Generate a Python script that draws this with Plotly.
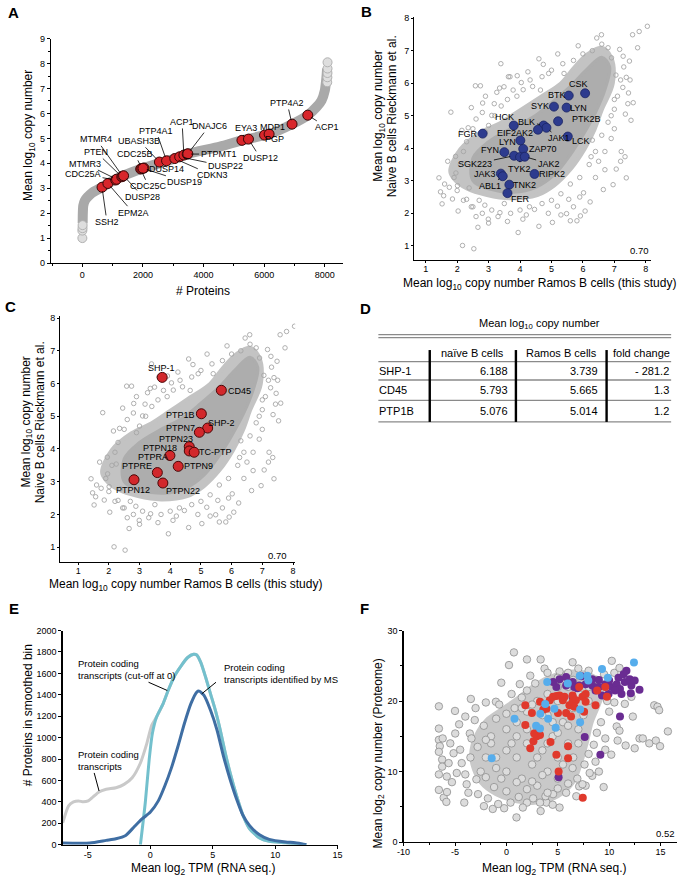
import plotly.graph_objects as go

W, H = 684, 882
FONT = "Arial, Liberation Sans, Helvetica, sans-serif"


def PX(x):
    return x / W


def PY(y):
    return 1 - y / H


# ================= Panel A data =================
a_curve_x = [10, 15, 30, 80, 160, 324, 649, 1081, 1946, 2919, 3459, 4541, 5297, 6162, 6919, 7438, 7730, 7892, 8000, 8054, 8075]
a_curve_y = [1.60, 2.00, 2.30, 2.50, 2.63, 2.82, 3.04, 3.35, 3.78, 4.14, 4.37, 4.67, 4.93, 5.17, 5.57, 5.93, 6.26, 6.52, 6.92, 7.45, 7.80]
a_tail_x = [0, 0, 5, 8, 8080, 8085, 8088, 8090, 8090]
a_tail_y = [1.00, 1.30, 1.40, 1.52, 7.25, 7.45, 7.62, 7.80, 8.05]

a_names = ["SSH2", "EPM2A", "CDC25A", "MTMR3", "PTEN", "MTMR4", "DUSP28", "CDC25C", "CDC25B", "DUSP14",
           "DUSP19", "UBASH3B", "PTP4A1", "CDKN3", "DUSP22", "ACP1", "PTPMT1", "DNAJC6", "EYA3", "DUSP12",
           "PGP", "MDP1", "PTP4A2", "ACP1"]
a_x = [649, 843, 1100, 1130, 1300, 1330, 1360, 1924, 1960, 2032, 2000, 2541, 2778, 3049, 3211, 3350, 3459, 3480,
       5265, 5481, 6011, 6162, 6919, 7438]
a_y = [3.04, 3.19, 3.33, 3.36, 3.46, 3.48, 3.50, 3.77, 3.79, 3.81, 3.80, 4.05, 4.10, 4.19, 4.26, 4.33, 4.37, 4.38,
       4.92, 4.97, 5.13, 5.17, 5.57, 5.93]
# label text positions (layout, data coords of the text centre)
a_lab_x = [811, 1676, 22, 76, 454, 465, 2000, 2184, 1730, 2789, 3384, 1880, 2430, 4292, 4724, 3290, 4497, 4180,
           5400, 5870, 6346, 6270, 6757, 8076]
a_lab_y = [1.65, 2.02, 3.56, 3.99, 4.45, 4.96, 2.65, 3.08, 4.38, 3.78, 3.25, 4.90, 5.31, 3.52, 3.88, 5.66, 4.37, 5.49,
           5.40, 4.22, 4.96, 5.46, 6.42, 5.44]

# ================= Panel B / C background cloud =================
bc_core_outer = [(1.78, 3.3), (2.1, 3.97), (2.74, 4.48), (3.38, 4.78), (4.02, 5.18), (4.66, 5.58), (5.30, 5.99),
                 (5.73, 6.49), (6.15, 6.89), (6.58, 7.09), (6.9, 6.79), (6.95, 5.99), (6.6, 5.18), (6.37, 4.58),
                 (6.05, 3.97), (5.62, 3.37), (5.09, 2.86), (4.55, 2.56), (3.70, 2.46), (2.95, 2.56), (2.31, 2.76),
                 (1.89, 3.07)]
bc_core_inner = [(2.5, 3.0), (3.0, 2.75), (3.8, 2.65), (4.5, 2.8), (5.1, 3.2), (5.6, 3.8), (6.0, 4.4), (6.4, 5.1),
                 (6.7, 5.8), (6.85, 6.5), (6.6, 6.8), (6.1, 6.4), (5.6, 5.9), (5.0, 5.4), (4.4, 4.95), (3.7, 4.6),
                 (3.0, 4.2), (2.5, 3.7)]
bc_points = [(1.42, 3.09), (1.47, 2.66), (1.57, 2.54), (1.52, 2.29), (1.75, 2.80), (1.80, 5.11), (1.85, 2.44),
             (1.96, 3.24), (2.01, 2.85), (2.03, 2.07), (2.17, 1.01), (2.24, 3.54), (2.30, 2.43), (2.35, 4.63),
             (2.38, 2.78), (2.45, 2.20), (2.53, 0.91), (2.58, 5.92), (2.66, 1.57), (2.74, 5.92), (2.81, 5.39),
             (2.88, 2.25), (2.90, 4.50), (2.99, 1.82), (3.10, 5.01), (3.18, 5.37), (3.26, 5.72), (3.39, 6.60),
             (3.36, 2.02), (3.49, 5.89), (3.63, 6.20), (3.68, 6.20), (3.78, 5.79), (3.91, 6.23), (3.94, 1.41),
             (4.04, 6.02), (4.09, 1.82), (4.32, 6.10), (4.46, 2.12), (4.65, 5.79), (4.74, 6.58), (4.91, 6.30),
             (5.03, 1.72), (5.19, 2.22), (5.36, 6.60), (5.48, 1.99), (5.55, 2.43), (5.60, 1.77), (5.81, 1.77),
             (5.92, 1.92), (6.02, 2.63), (6.07, 2.07), (6.23, 2.35), (6.26, 3.74), (6.30, 4.25), (6.44, 7.39),
             (6.59, 7.49), (6.65, 2.73), (6.70, 3.34), (6.80, 7.09), (6.91, 6.78), (6.96, 2.88), (7.06, 3.36),
             (7.17, 7.04), (7.22, 3.90), (7.28, 6.83), (7.34, 3.74), (7.38, 3.09), (7.43, 5.37), (7.58, 7.49),
             (7.74, 7.09), (7.79, 7.59), (8.05, 7.75), (7.48, 6.68), (7.38, 6.18), (7.27, 5.87), (7.53, 4.86),
             (2.1, 3.5), (2.2, 3.9), (2.3, 4.2), (2.5, 4.6), (2.6, 4.9), (2.8, 5.1), (3.0, 4.7), (3.2, 5.0),
             (3.4, 5.3), (3.6, 5.5), (3.9, 5.6), (4.1, 5.8), (4.4, 5.9), (4.7, 6.2), (5.0, 6.4), (5.4, 6.3),
             (5.7, 6.7), (6.0, 6.9), (6.3, 7.0), (6.6, 7.2), (1.9, 3.1), (2.0, 2.7), (2.2, 2.4), (2.5, 2.2),
             (2.8, 2.0), (3.1, 2.1), (3.3, 1.9), (3.7, 2.0), (4.0, 2.1), (4.3, 2.2), (4.7, 2.3), (5.0, 2.4),
             (5.3, 2.6), (5.6, 2.9), (5.9, 3.1), (6.2, 3.5), (6.4, 3.9), (6.6, 4.4), (6.8, 4.8), (7.0, 5.2),
             (7.1, 5.6), (7.2, 6.1), (7.3, 6.5), (1.7, 3.6), (1.6, 2.9), (2.7, 2.4), (3.5, 2.3), (4.9, 2.0),
             (5.9, 2.5), (6.5, 3.6), (6.9, 4.3), (7.5, 6.1), (7.6, 5.4), (7.2, 3.6), (7.0, 5.5), (6.9, 5.0),
             (1.95, 3.75), (2.15, 4.55), (2.45, 5.25), (2.9, 5.6), (3.35, 5.85), (4.25, 6.35), (4.6, 6.75),
             (5.2, 6.9), (5.85, 7.15), (2.6, 1.9), (3.0, 1.7), (3.6, 1.75), (4.2, 1.95), (4.6, 1.6), (5.3, 1.95),
             (5.7, 2.2), (6.4, 3.1), (6.7, 3.9), (7.0, 4.6), (7.35, 5.05), (7.45, 5.7), (7.05, 6.25)]

b_names = ["CSK", "BTK", "SYK", "LYN", "PTK2B", "BLK", "JAK1", "EIF2AK2", "HCK", "FGR", "LCK", "LYN", "ZAP70",
           "FYN", "SGK223", "TYK2", "JAK2", "JAK3", "ABL1", "RIPK2", "TNK2", "FER"]
b_x = [6.07, 5.55, 5.08, 5.48, 5.21, 4.75, 4.84, 4.57, 3.80, 2.81, 5.52, 4.01, 4.10, 3.50, 3.81, 4.00, 4.15, 3.39,
       3.45, 4.46, 3.66, 3.60]
b_y = [5.69, 5.62, 5.28, 5.25, 4.83, 4.70, 4.63, 4.57, 4.70, 4.45, 4.36, 4.24, 3.98, 3.88, 3.77, 3.73, 3.74, 3.22,
       3.14, 3.21, 2.88, 2.62]
b_lab_x = [5.85, 5.16, 4.65, 5.86, 6.12, 4.22, 5.24, 3.83, 3.50, 2.34, 5.95, 3.60, 4.72, 3.03, 2.58, 3.99, 4.91,
           2.90, 3.03, 5.03, 4.15, 4.02]
b_lab_y = [5.97, 5.65, 5.31, 5.25, 4.89, 4.82, 4.30, 4.46, 4.96, 4.45, 4.22, 4.20, 3.98, 3.95, 3.52, 3.37, 3.53,
           3.21, 2.83, 3.21, 2.88, 2.43]
b_lab_line = [False, False, False, False, False, True, True, False, False, False, False, False, False, False, True,
              True, True, False, True, False, False, False]

c_names = ["SHP-1", "CD45", "PTP1B", "SHP-2", "PTPN7", "PTPN23", "PTPN18", "TC-PTP", "PTPRA", "PTPN9", "PTPRE",
           "PTPN12", "PTPN22"]
c_x = [3.739, 5.665, 5.014, 5.22, 4.95, 4.62, 4.62, 4.78, 3.99, 4.26, 3.58, 2.82, 3.76]
c_y = [6.188, 5.793, 5.076, 4.64, 4.51, 4.07, 3.94, 3.90, 3.80, 3.47, 3.28, 3.06, 2.96]
c_lab_x = [3.70, 6.26, 4.34, 5.67, 4.32, 4.18, 3.68, 5.48, 3.43, 4.92, 2.92, 2.79, 4.43]
c_lab_y = [6.46, 5.76, 5.05, 4.80, 4.63, 4.30, 4.02, 3.90, 3.75, 3.47, 3.47, 2.76, 2.73]

# ================= Panel D table =================
tbl_rows = ["SHP-1", "CD45", "PTP1B"]
tbl_head = ["naïve B cells", "Ramos B cells", "fold change"]
tbl_naive = [6.188, 5.793, 5.076]
tbl_ramos = [3.739, 5.665, 5.014]
tbl_fold = ["- 281.2", "1.3", "1.2"]

# ================= Panel E curves =================
e_all_x = [-7.0, -6.53, -6.14, -5.74, -5.35, -4.96, -4.57, -4.10, -3.52, -2.74, -2.09, -1.44, -0.78, -0.26, 0.13,
           0.52, 1.04, 1.44, 1.96, 2.48, 3.0, 3.47, 3.73, 4.05, 4.44, 4.83, 5.22, 5.61, 6.01, 6.40, 6.92, 7.44,
           7.96, 8.75, 9.53, 10.84, 11.6, 12.5]
e_all_y = [203, 363, 400, 409, 400, 409, 446, 492, 517, 532, 563, 625, 763, 948, 1117, 1194, 1317, 1440, 1578,
           1671, 1748, 1778, 1772, 1702, 1563, 1409, 1255, 1071, 855, 671, 455, 271, 148, 62, 31, 18, 9, 0]
e_cut_x = [-0.78, -0.39, -0.08, 0.18, 0.52, 1.04, 1.44, 1.96, 2.48, 3.0, 3.47, 3.73, 4.05, 4.44, 4.83, 5.22, 5.61,
           6.01, 6.40, 6.92, 7.44, 7.96, 8.75, 9.53, 10.84, 11.6, 12.5]
e_cut_y = [0, 394, 794, 1040, 1194, 1317, 1440, 1578, 1671, 1748, 1778, 1772, 1702, 1563, 1409, 1255, 1071, 855,
           671, 455, 271, 148, 62, 31, 18, 9, 0]
e_ms_x = [-7.0, -4.83, -3.52, -2.74, -1.96, -1.31, -0.65, 0.0, 0.65, 1.17, 1.70, 2.22, 2.74, 3.26, 3.73, 3.92,
          4.31, 4.83, 5.35, 5.87, 6.40, 6.92, 7.44, 7.96, 8.75, 9.53, 10.84, 11.6, 12.5]
e_ms_y = [15, 15, 40, 55, 86, 163, 240, 302, 409, 548, 717, 917, 1132, 1317, 1425, 1434, 1394, 1255, 1071, 825,
          609, 425, 271, 178, 92, 49, 25, 18, 0]

# ================= Panel F =================
f_core = [(-3.0, 15.0), (-2.0, 17.2), (-0.5, 18.8), (1.0, 20.3), (2.5, 22.0), (4.0, 23.3), (5.5, 24.0),
          (7.0, 24.2), (8.5, 23.5), (9.5, 22.0), (9.0, 19.5), (8.3, 17.0), (7.8, 14.0), (7.2, 11.0), (6.5, 8.5),
          (5.0, 6.5), (3.0, 5.6), (1.0, 5.8), (-1.0, 6.8), (-2.5, 8.5), (-3.3, 11.0), (-3.4, 13.0)]
f_gray = [(-6.57, 19.25), (-6.57, 16.1), (-6.57, 14.5), (-6.48, 13.6), (-6.57, 12.8), (-6.57, 9.6), (-6.57, 7.4),
          (-6.2, 14.7), (-6.25, 11.7), (-6.25, 10.7), (-6.1, 6.3), (-5.84, 5.7), (-5.78, 7.1), (-5.62, 11.2),
          (-5.46, 14.0), (-5.3, 8.5), (-5.14, 12.6), (-4.98, 15.4), (-4.83, 9.8), (-4.6, 16.7), (-4.5, 13.1),
          (-4.35, 11.2), (-4.1, 5.6), (-3.87, 8.2), (-3.7, 7.0), (-3.46, 20.3), (-3.56, 15.4), (-3.4, 14.7),
          (-3.08, 17.3), (-2.92, 8.9), (-2.76, 6.8), (-2.19, 5.1), (-1.33, 4.7), (-1.02, 19.9), (-0.7, 19.5),
          (-0.22, 4.8), (0.25, 25.1), (0.73, 26.9), (0.98, 3.5), (2.0, 25.9), (2.32, 23.6), (3.33, 25.9),
          (3.33, 4.4), (3.71, 24.6), (3.9, 5.6), (5.17, 24.2), (5.17, 4.9), (6.44, 25.5), (7.71, 8.0),
          (7.08, 7.9), (9.46, 7.8), (8.35, 9.4), (10.25, 25.7), (10.73, 16.4), (10.82, 14.4), (9.62, 14.7),
          (8.67, 11.4), (9.62, 13.1), (12.48, 13.3), (12.95, 14.7), (13.27, 14.7), (13.9, 14.0), (14.54, 14.4),
          (14.95, 13.6), (14.38, 19.4), (14.7, 19.2), (14.86, 18.7), (15.71, 15.7), (12.16, 20.6), (11.52, 19.6),
          (7.4, 8.2), (8.1, 9.8), (6.44, 10.5), (5.81, 7.0), (4.54, 6.8), (3.27, 5.6), (2.0, 5.6), (0.4, 5.6),
          (-2.5, 10.0), (-2.0, 12.0), (-2.8, 13.5), (-1.5, 15.0), (-2.2, 16.5), (-1.0, 17.5), (0.0, 18.2),
          (0.8, 19.0), (1.5, 20.5), (2.0, 21.5), (2.8, 22.5), (4.0, 24.0), (5.0, 23.3), (6.0, 24.0), (7.0, 24.6),
          (8.0, 24.3), (8.8, 23.0), (9.5, 23.8), (10.5, 24.0), (11.0, 24.7), (9.8, 20.0), (10.0, 18.5),
          (9.2, 17.0), (8.8, 15.5), (8.5, 13.8), (8.0, 12.5), (7.6, 11.0), (6.9, 9.0), (6.0, 8.3), (5.0, 7.6),
          (3.8, 6.5), (2.6, 6.2), (1.2, 6.4), (0.0, 7.2), (-1.2, 7.8), (-2.0, 9.2), (-1.8, 6.2), (-0.8, 5.4),
          (1.6, 4.9), (4.5, 5.3), (6.8, 6.5), (9.0, 10.0), (10.2, 12.4), (11.0, 15.8), (11.6, 13.7),
          (12.3, 17.8), (10.5, 19.8), (-4.0, 17.8), (-5.0, 18.6), (-3.0, 19.0), (-2.0, 19.8), (0.5, 21.0),
          (-0.5, 22.6), (1.3, 22.4), (-4.0, 9.6), (-3.5, 12.0), (-5.8, 9.3),
          (0, 10), (1, 12), (2, 14), (3, 16), (4, 18), (5, 20), (0.5, 14), (1.5, 9), (2.5, 11), (3.5, 13),
          (4.5, 15), (5.5, 17), (6.5, 19), (7, 21), (-1, 12), (-1.5, 14), (0, 16), (1, 17), (2, 18.5), (3, 20),
          (4, 21), (6, 22), (5, 12), (6, 14), (7, 16), (4, 10), (3, 8), (5, 9), (2, 7.5), (-0.5, 9), (1, 8.5),
          (6.5, 12), (7.5, 18), (8, 20), (3, 12), (4, 14), (5, 15.5), (2, 16), (1, 15), (0, 13), (-2, 14.5),
          (-1, 10.5), (3.5, 9.5), (5.5, 11), (6, 16.5), (7, 14), (4.5, 17), (3.5, 18), (2.5, 19.5), (1.5, 19),
          (5, 22), (6.5, 23), (8, 22), (4, 7), (2.5, 8.6)]
f_purple_x = [4.54, 5.17, 5.81, 6.44, 7.08, 7.71, 8.35, 8.98, 9.62, 10.25, 10.73, 11.05, 11.52, 11.68, 12.16, 12.0,
              12.48, 12.95, 12.1, 11.2, 10.57, 9.94, 9.30, 8.67, 8.35, 6.6, 5.81, 4.86, 11.05, 7.62, 9.14, 5.08,
              6.44, 10.0, 10.9, 11.4, 9.0, 7.3, 6.9]
f_purple_y = [22.7, 23.1, 23.4, 22.7, 22.2, 22.4, 23.1, 22.0, 22.4, 22.0, 22.4, 21.7, 22.7, 24.3, 22.2, 23.1, 22.9,
              21.6, 21.1, 21.0, 21.5, 21.0, 20.8, 21.5, 22.2, 22.0, 22.2, 22.0, 17.8, 14.9, 12.4, 9.2, 20.6, 22.9,
              23.3, 23.8, 23.0, 23.5, 21.8]
f_red_x = [1.84, 1.84, 2.48, 3.27, 3.59, 4.22, 4.54, 4.86, 5.17, 5.49, 5.65, 5.02, 5.81, 6.13, 6.44, 6.44, 6.76,
           7.08, 7.40, 7.71, 7.71, 7.56, 6.29, 6.6, 8.67, 8.83, 9.62, 9.78, 3.9, 2.95, 3.27, 2.63, 2.32, 4.29, 4.86,
           6.0, 6.0, 5.08, 7.43, 2.7, 3.1]
f_red_y = [19.4, 16.6, 18.3, 19.9, 18.8, 20.1, 20.6, 20.7, 20.8, 20.1, 20.6, 18.3, 18.3, 19.4, 19.9, 20.8, 20.1,
           22.0, 20.6, 21.0, 19.9, 18.5, 17.8, 19.2, 19.4, 21.5, 22.0, 20.6, 18.9, 15.0, 15.2, 14.3, 13.3, 14.2,
           12.4, 13.6, 11.9, 10.0, 6.3, 15.4, 15.9]
f_blue_x = [12.41, 9.30, 7.14, 7.87, 7.97, 5.97, 3.97, 9.87, 3.78, 3.30, 4.67, 7.17, 4.06, 0.79, 2.89, 3.27, 4.79,
            7.17, -1.43]
f_blue_y = [25.47, 24.53, 23.6, 23.6, 22.9, 22.5, 22.7, 23.3, 19.6, 18.2, 18.9, 18.8, 17.5, 17.5, 16.5, 16.1, 16.2,
            17.0, 11.9]

corr_bc = "0.70"
corr_f = "0.52"

# ================= Build figure =================
fig = go.Figure()


def sc(x, y, axis, **kw):
    xa, ya = axis
    fig.add_trace(go.Scatter(x=list(x), y=list(y), xaxis=xa, yaxis=ya, hoverinfo="skip", **kw))


# A
sc(a_curve_x, a_curve_y, ("x", "y"), mode="lines", line=dict(color="#a9a9a9", width=10, shape="spline", smoothing=0.6))
sc(a_tail_x, a_tail_y, ("x", "y"), mode="markers",
   marker=dict(size=9, color="#dedede", line=dict(color="#b2b2b2", width=1)))
sc(a_x, a_y, ("x", "y"), mode="markers", marker=dict(size=10, color="#d8262b", line=dict(color="#3a0808", width=1)))

# B & C clouds
for axis in [("x2", "y2"), ("x3", "y3")]:
    ox, oy = zip(*bc_core_outer)
    sc(ox + (ox[0],), oy + (oy[0],), axis, mode="lines", fill="toself", fillcolor="#c3c3c3",
       line=dict(color="#c3c3c3", width=4, shape="spline"))
    ix, iy = zip(*bc_core_inner)
    sc(ix + (ix[0],), iy + (iy[0],), axis, mode="lines", fill="toself", fillcolor="#adadad",
       line=dict(color="#adadad", width=3, shape="spline"))
    px_, py_ = zip(*bc_points)
    sc(px_, py_, axis, mode="markers", marker=dict(symbol="circle-open", size=4.5, color="#a6a6a6",
                                                   line=dict(width=0.9)))

sc(b_x, b_y, ("x2", "y2"), mode="markers", marker=dict(size=9, color="#2d3b8e", line=dict(color="#1b2463", width=0.8)))
sc(c_x, c_y, ("x3", "y3"), mode="markers", marker=dict(size=10, color="#d2282c", line=dict(color="#4a0707", width=1)))

# E
sc(e_all_x, e_all_y, ("x4", "y4"), mode="lines", line=dict(color="#c9c9c9", width=3, shape="spline", smoothing=0.6))
sc(e_cut_x, e_cut_y, ("x4", "y4"), mode="lines", line=dict(color="#73c0cd", width=3, shape="spline", smoothing=0.6))
sc(e_ms_x, e_ms_y, ("x4", "y4"), mode="lines", line=dict(color="#3f6ea3", width=3, shape="spline", smoothing=0.6))

# F
fx, fy = zip(*f_core)
sc(fx + (fx[0],), fy + (fy[0],), ("x5", "y5"), mode="lines", fill="toself", fillcolor="#c9c9c9",
   line=dict(color="#c9c9c9", width=4, shape="spline"))
gx, gy = zip(*f_gray)
sc(gx, gy, ("x5", "y5"), mode="markers", marker=dict(size=7.5, color="#dcdcdc", line=dict(color="#8e8e8e", width=0.8)))
sc(f_purple_x, f_purple_y, ("x5", "y5"), mode="markers", marker=dict(size=8, color="#6a2c92"))
sc(f_red_x, f_red_y, ("x5", "y5"), mode="markers", marker=dict(size=8, color="#e0392c"))
sc(f_blue_x, f_blue_y, ("x5", "y5"), mode="markers", marker=dict(size=8, color="#56adec"))

# ================= Annotations & shapes =================
ann = []
shapes = []


def txt(x, y, text, size=12, xref="paper", yref="paper", angle=0, xanchor="center", yanchor="middle",
        bold=False, align="center"):
    if xref == "paper":
        x = PX(x)
    if yref == "paper":
        y = PY(y)
    ann.append(dict(x=x, y=y, xref=xref, yref=yref, text=("<b>%s</b>" % text) if bold else text,
                    showarrow=False, textangle=angle, xanchor=xanchor, yanchor=yanchor, align=align,
                    font=dict(family=FONT, size=size, color="black")))


def lab(xr, yr, name, tx, ty, x, y, line, size=9.5):
    if line:
        ann.append(dict(x=x, y=y, xref=xr, yref=yr, ax=tx, ay=ty, axref=xr, ayref=yr, text=name,
                        showarrow=True, arrowhead=0, arrowwidth=0.8, arrowcolor="black", standoff=4,
                        font=dict(family=FONT, size=size, color="black")))
    else:
        ann.append(dict(x=tx, y=ty, xref=xr, yref=yr, text=name, showarrow=False,
                        font=dict(family=FONT, size=size, color="black")))


for n, x, y, tx, ty in zip(a_names, a_x, a_y, a_lab_x, a_lab_y):
    lab("x", "y", n, tx, ty, x, y, True, size=9)
for n, x, y, tx, ty, ln in zip(b_names, b_x, b_y, b_lab_x, b_lab_y, b_lab_line):
    lab("x2", "y2", n, tx, ty, x, y, ln, size=9)
for n, x, y, tx, ty in zip(c_names, c_x, c_y, c_lab_x, c_lab_y):
    lab("x3", "y3", n, tx, ty, x, y, False, size=9)

# panel letters
for L, x, y in [("A", 7, 8), ("B", 366, 7), ("C", 4, 305), ("D", 365, 307), ("E", 7, 610), ("F", 364, 610)]:
    txt(x, y, L, size=15, bold=True)

# axis titles
txt(22, 132, "Mean log<sub>10</sub> copy number", angle=-90)
txt(200, 289, "# Proteins")
txt(378.7, 113, "Mean log<sub>10</sub> copy number", angle=-90)
txt(391.5, 113, "Naive B cells Rieckmann et al.", angle=-90)
txt(542, 282, "Mean log<sub>10</sub> copy number Ramos B cells (this study)")
txt(20, 421.7, "Mean log<sub>10</sub> copy number", angle=-90)
txt(33, 421.7, "Naive B cells Rieckmann et al.", angle=-90)
txt(182, 587, "Mean log<sub>10</sub> copy number Ramos B cells (this study)")
txt(21.7, 718, "# Proteins in smoothed bin", angle=-90)
txt(200, 874, "Mean log<sub>2</sub> TPM (RNA seq.)")
txt(378.7, 757, "Mean log<sub>2</sub> copy number (Proteome)", angle=-90)
txt(557, 874, "Mean log<sub>2</sub> TPM (RNA seq.)")

# correlation values
txt(643.7, 248.3, corr_bc, size=9.5)
txt(275, 556.7, corr_bc, size=9.5)
txt(670.3, 838.3, corr_f, size=9.5)

# E annotations
txt(-5.93, 1636, "Protein coding<br>transcripts (cut-off at 0)", size=9.5, xref="x4", yref="y4",
    xanchor="left", align="left")
txt(5.78, 1600, "Protein coding<br>transcripts identified by MS", size=9.5, xref="x4", yref="y4",
    xanchor="left", align="left")
txt(-5.93, 787, "Protein coding<br>transcripts", size=9.5, xref="x4", yref="y4", xanchor="left", align="left")
for (x0, y0, x1, y1) in [(-0.13, 1517, 1.37, 1440), (5.27, 1517, 4.13, 1409), (-4.48, 670, -4.09, 501)]:
    shapes.append(dict(type="line", xref="x4", yref="y4", x0=x0, y0=y0, x1=x1, y1=y1,
                       line=dict(color="black", width=1)))

# D table
txt(542, 323, "Mean log<sub>10</sub> copy number", size=11)
for yy in (333.5, 336.5):
    shapes.append(dict(type="line", xref="paper", yref="paper", x0=PX(378), x1=PX(676), y0=PY(yy), y1=PY(yy),
                       line=dict(color="#8a8a8a", width=1.2)))
for yy in (360.7, 379.3, 400, 421.7):
    shapes.append(dict(type="line", xref="paper", yref="paper", x0=PX(378), x1=PX(676), y0=PY(yy), y1=PY(yy),
                       line=dict(color="#8a8a8a", width=1.3)))
for xx in (430.3, 518, 610.3):
    shapes.append(dict(type="line", xref="paper", yref="paper", x0=PX(xx), x1=PX(xx), y0=PY(349), y1=PY(421.7),
                       line=dict(color="black", width=2.4)))
head_x = [473.7, 564.8, 646.3]
for h, hx in zip(tbl_head, head_x):
    txt(hx, 351.5, h, size=11)
row_y = [370.2, 389.7, 410.8]
for r, ry, a, b, f in zip(tbl_rows, row_y, tbl_naive, tbl_ramos, tbl_fold):
    txt(377, ry, r, size=11, xanchor="left")
    txt(512, ry, "%.3f" % a, size=11, xanchor="right")
    txt(603.7, ry, "%.3f" % b, size=11, xanchor="right")
    txt(675.5, ry, f, size=11, xanchor="right")


# ================= Axes =================
def axis(domain, rng, anchor, **kw):
    d = dict(domain=domain, range=rng, anchor=anchor, showline=True, linecolor="black", linewidth=1.3,
             ticks="outside", ticklen=3, tickwidth=1, tickcolor="black", showgrid=False, zeroline=False,
             tickfont=dict(family=FONT, size=9, color="black"), fixedrange=True)
    d.update(kw)
    return d


layout = dict(
    width=W, height=H, margin=dict(l=0, r=0, t=0, b=0), paper_bgcolor="white", plot_bgcolor="rgba(0,0,0,0)",
    showlegend=False, hovermode=False, font=dict(family=FONT, color="black"),
    annotations=ann, shapes=shapes,
    xaxis=axis([PX(45), PX(342)], [-1028, 8600], "y", tickvals=[0, 2000, 4000, 6000, 8000],
               minor=dict(ticks="outside", ticklen=2, tickvals=[-1000, 1000, 3000, 5000, 7000], tickcolor="black")),
    yaxis=axis([PY(261), PY(34)], [0, 9], "x", dtick=1,
               minor=dict(ticks="outside", ticklen=2, dtick=0.5, tickcolor="black")),
    xaxis2=axis([PX(414.7), PX(655.3)], [0.64, 8.16], "y2", dtick=1, ticklen=2, ticklabelstandoff=-2),
    yaxis2=axis([PY(257.7), PY(11.7)], [0.571, 8.049], "x2", dtick=1, ticklen=2),
    xaxis3=axis([PX(54.3), PX(293.3)], [0.42, 8.07], "y3", dtick=1, ticklen=2, ticklabelstandoff=-2),
    yaxis3=axis([PY(563.3), PY(315)], [0.55, 8.05], "x3", dtick=1, ticklen=2),
    xaxis4=axis([PX(56.7), PX(336.5)], [-7, 15], "y4", tickvals=[-5, 0, 5, 10, 15],
                ticktext=["-5", "0", "5", "10", "15"], ticklabelstandoff=-2),
    yaxis4=axis([PY(849.3), PY(632.7)], [0, 2000], "x4", dtick=200),
    xaxis5=axis([PX(403.7), PX(682)], [-10, 16.6], "y5", tickvals=[-10, -5, 0, 5, 10, 15],
                ticktext=["-10", "-5", "0", "5", "10", "15"], ticklabelstandoff=-2,
                minor=dict(ticks="outside", ticklen=2, tickvals=[-7.5, -2.5, 2.5, 7.5, 12.5], tickcolor="black")),
    yaxis5=axis([PY(846.7), PY(632.7)], [0, 30], "x5", tickvals=[0, 10, 20, 30],
                minor=dict(ticks="outside", ticklen=2, dtick=5, tickcolor="black")),
)
fig.update_layout(**layout)
fig.write_html("out.html", config={"displayModeBar": False, "staticPlot": True},
               post_script="document.body.style.margin='0';document.body.style.padding='0';"
                           "document.documentElement.style.overflow='hidden';document.body.style.overflow='hidden';")
